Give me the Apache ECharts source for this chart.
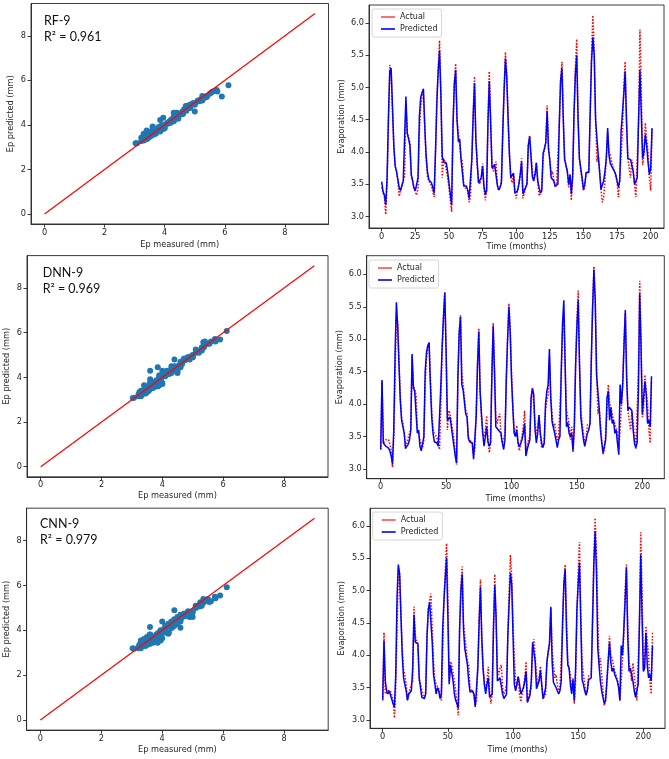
<!DOCTYPE html>
<html><head><meta charset="utf-8">
<script src="https://cdn.jsdelivr.net/npm/echarts@6/dist/echarts.min.js"></script>
<style>html,body{margin:0;padding:0;background:#fff}#c{width:669px;height:759px}</style>
</head><body><div id="c"></div>
<script>
// ---------- DATA ----------
// Actual monthly evaporation (mm), test window of DNN-9 / CNN-9 (208 months)
const actual = [
3.30,4.35,3.40,3.42,3.45,3.42,3.45,3.38,3.30,3.03,
3.50,4.40,5.35,5.25,4.65,4.10,3.78,3.70,3.55,3.31,
3.40,3.48,3.55,3.60,4.75,4.30,4.22,4.15,3.62,3.55,
3.45,3.38,3.33,3.45,4.30,4.70,4.85,4.95,4.40,3.90,
3.62,3.55,3.52,3.48,3.38,3.30,4.00,4.85,5.30,5.73,
4.90,3.60,3.90,3.85,3.85,3.60,3.45,3.25,3.07,4.40,
5.10,5.37,4.50,4.30,4.30,3.90,3.85,3.50,3.45,3.45,
3.40,3.22,3.30,3.90,4.60,5.17,4.20,3.80,3.55,3.50,
3.60,3.82,3.45,3.25,3.40,4.50,5.25,4.50,3.80,3.70,
3.80,3.85,3.50,3.40,3.45,3.55,4.30,5.00,5.55,5.20,
4.50,3.95,3.60,3.52,3.67,3.40,3.28,3.40,3.50,3.65,
3.90,3.28,3.35,3.45,3.50,4.10,4.25,4.22,3.70,3.55,
3.65,3.83,3.55,3.32,3.35,3.40,3.90,4.05,4.15,4.72,
4.10,3.85,3.65,3.70,3.55,3.45,3.50,3.50,4.40,5.10,
5.40,4.60,3.90,3.90,3.70,3.45,3.65,3.25,3.60,4.60,
5.30,5.75,4.60,3.90,3.70,3.55,3.40,3.45,3.68,3.65,
3.70,4.60,5.50,6.12,5.60,4.60,3.85,3.95,3.70,3.45,
3.22,3.30,3.55,3.90,4.30,4.00,3.95,3.85,3.75,3.70,
3.62,3.55,3.30,3.60,3.95,4.30,5.00,5.40,4.50,3.90,
3.90,3.60,3.88,3.85,3.50,3.30,3.30,4.50,5.90,5.00,
3.80,3.95,4.45,4.20,4.00,3.60,3.40,4.35];
// RF-9 test window starts 6 months later (202 months)
const rfActual = actual.slice(6);
const rfPred = [
3.54,3.38,3.33,3.18,3.60,4.55,5.25,5.30,4.70,4.10,
3.78,3.70,3.67,3.45,3.40,3.48,3.55,3.58,4.86,4.29,
4.20,4.10,3.65,3.55,3.44,3.40,3.38,3.60,4.55,4.85,
4.92,4.98,4.40,3.95,3.70,3.57,3.55,3.52,3.45,3.36,
4.00,4.76,5.25,5.57,4.90,3.93,3.85,3.85,3.83,3.70,
3.52,3.35,3.18,4.40,5.05,5.27,4.50,4.16,4.20,3.88,
3.85,3.47,3.45,3.47,3.40,3.28,3.30,3.88,4.55,5.07,
4.20,3.83,3.52,3.52,3.60,3.78,3.47,3.34,3.40,4.45,
5.10,4.45,3.75,3.72,3.80,3.83,3.48,3.41,3.45,3.52,
4.30,4.95,5.45,5.15,4.50,3.95,3.60,3.57,3.67,3.36,
3.36,3.40,3.50,3.65,3.85,3.35,3.40,3.45,3.50,4.10,
4.24,4.24,3.62,3.55,3.65,3.83,3.55,3.45,3.36,3.40,
3.98,4.05,4.15,4.63,4.05,3.88,3.60,3.60,3.55,3.47,
3.50,3.50,4.40,5.10,5.30,4.50,3.88,3.85,3.70,3.50,
3.65,3.35,3.65,4.60,5.20,5.50,4.50,3.90,3.75,3.60,
3.42,3.50,3.68,3.70,3.68,4.60,5.40,5.78,5.50,4.50,
4.22,3.95,3.70,3.42,3.42,3.55,3.70,3.90,4.37,3.95,
3.82,3.78,3.75,3.70,3.65,3.55,3.45,3.55,4.32,4.30,
4.90,5.25,4.50,3.90,3.88,3.88,3.88,3.70,3.50,3.48,
3.60,4.50,5.27,4.60,3.90,4.00,4.27,4.10,3.85,3.65,
3.75,4.37];
const dnnPred = [
3.30,4.37,3.40,3.38,3.35,3.33,3.32,3.28,3.20,3.08,
3.60,4.80,5.57,5.20,4.60,4.05,3.75,3.75,3.55,3.32,
3.35,3.38,3.45,3.60,4.77,4.25,4.20,4.22,3.55,3.60,
3.35,3.28,3.30,3.50,4.50,4.80,4.90,4.95,4.30,3.80,
3.55,3.42,3.45,3.40,3.35,3.35,4.30,4.90,5.35,5.72,
4.80,3.75,3.78,3.80,3.65,3.50,3.35,3.20,3.09,4.40,
5.10,5.35,4.30,4.22,4.25,3.85,3.80,3.47,3.42,3.45,
3.40,3.15,3.15,3.80,4.60,5.12,4.20,3.86,3.55,3.35,
3.50,3.65,3.42,3.35,3.40,4.45,5.20,4.50,3.65,3.62,
3.60,3.60,3.55,3.40,3.30,3.45,4.40,5.00,5.50,5.10,
4.40,3.95,3.55,3.50,3.60,3.40,3.34,3.35,3.45,3.55,
3.70,3.20,3.30,3.28,3.45,4.10,4.24,4.15,3.60,3.40,
3.55,3.83,3.55,3.40,3.33,3.40,4.00,4.20,4.30,4.85,
4.10,3.73,3.70,3.55,3.45,3.33,3.45,3.50,4.50,5.25,
5.60,4.60,3.65,3.72,3.55,3.50,3.55,3.28,3.65,4.60,
5.20,5.60,4.60,3.80,3.62,3.45,3.35,3.33,3.55,3.60,
3.70,4.70,5.50,6.07,5.60,4.45,4.45,3.95,3.60,3.40,
3.25,3.25,3.45,4.10,4.20,3.75,3.95,3.70,3.75,3.55,
3.60,3.40,3.22,4.30,4.00,4.30,4.90,5.45,4.40,3.90,
3.95,3.92,3.90,3.60,3.40,3.33,3.40,4.20,5.70,4.90,
3.85,3.83,4.35,4.15,3.70,3.75,3.65,4.43];
const cnnPred = [
3.31,4.22,3.60,3.45,3.40,3.45,3.38,3.36,3.25,3.20,
3.70,4.90,5.40,5.25,4.60,4.00,3.65,3.65,3.45,3.30,
3.40,3.42,3.45,3.80,4.63,4.20,4.20,4.18,3.65,3.50,
3.35,3.33,3.33,3.40,4.30,4.70,4.82,4.80,4.20,3.70,
3.56,3.40,3.50,3.45,3.33,3.40,4.40,4.85,5.20,5.50,
4.60,3.55,3.85,3.85,3.60,3.40,3.30,3.25,3.18,4.40,
5.00,5.25,4.40,4.10,4.10,3.85,3.60,3.43,3.43,3.45,
3.40,3.20,3.20,3.80,4.50,5.05,4.30,3.80,3.55,3.40,
3.55,3.65,3.35,3.35,3.40,4.40,5.08,4.60,3.60,3.60,
3.65,3.65,3.40,3.33,3.35,3.40,4.30,4.80,5.27,5.10,
4.30,3.55,3.45,3.45,3.67,3.55,3.40,3.40,3.50,3.60,
3.75,3.27,3.30,3.38,3.60,4.20,4.22,3.90,3.48,3.50,
3.60,3.77,3.55,3.33,3.40,3.50,3.90,4.05,4.20,4.75,
3.90,3.58,3.55,3.50,3.45,3.40,3.45,3.60,4.50,5.10,
5.33,4.40,3.85,3.80,3.55,3.40,3.62,3.30,3.80,4.70,
5.10,5.43,4.50,3.62,3.55,3.45,3.38,3.45,3.62,3.60,
3.65,4.50,5.40,5.92,5.30,4.12,3.85,3.60,3.45,3.35,
3.25,3.30,3.60,3.90,4.20,3.90,3.75,3.80,3.70,3.70,
3.60,3.50,3.30,4.15,4.00,4.40,4.85,5.35,4.30,3.75,
3.80,3.82,3.60,3.45,3.35,3.35,3.55,4.50,5.55,4.60,
3.75,3.80,4.35,3.85,3.65,3.70,3.60,4.15];
const modelNames = ['RF-9', 'DNN-9', 'CNN-9'];
const r2Values = ['0.961', '0.969', '0.979'];
const scatterTicks = [0, 2, 4, 6, 8];
const evapTicks = [3.0, 3.5, 4.0, 4.5, 5.0, 5.5, 6.0];
const monthTicksRF = [0, 25, 50, 75, 100, 125, 150, 175, 200];
const monthTicks = [0, 50, 100, 150, 200];
const diagonal = [0, 9];

// ---------- LAYOUT ----------
const FONT = 'DejaVu Sans';
const INK = '#262626';
const FS = 8.2;
const scatterLayout = [
  {grid:{left:31, top:3.5, width:297.5, height:220.5}, xGap:17, yGap:16.5, title:{left:44, top:12.7}},
  {grid:{left:27, top:255.6, width:301, height:221.2}, xGap:15, yGap:16, title:{left:42.7, top:264.7}},
  {grid:{left:26.6, top:508.2, width:301.6, height:221.9}, xGap:15.5, yGap:16, title:{left:40, top:516.3}}
];
const seriesLayout = [
  {grid:{left:369, top:5, width:295, height:223}, x:[-9.45, 209.9], y:[2.82, 6.28], xGap:15, yGap:23.5, legend:{left:372, top:9}},
  {grid:{left:366.7, top:255.7, width:297.6, height:223}, x:[-10.7, 216.8], y:[2.85, 6.287], xGap:16, yGap:23, legend:{left:369, top:260}},
  {grid:{left:370, top:508.3, width:295, height:220}, x:[-9.75, 216.6], y:[2.87, 6.27], xGap:18, yGap:24, legend:{left:372.7, top:512}}
];

const panelsPred = [rfPred, dnnPred, cnnPred];
const panelsActual = [rfActual, actual, actual];
const panelsMonthTicks = [monthTicksRF, monthTicks, monthTicks];

function axis(gridIndex, o) {
  return Object.assign({
    gridIndex, type:'value',
    nameLocation:'middle',
    nameTextStyle:{fontFamily:FONT, fontSize:FS, color:INK},
    axisLine:{show:true, onZero:false, lineStyle:{color:INK, width:0.9}},
    axisTick:{show:true, length:3.5, lineStyle:{color:INK, width:0.9}},
    splitLine:{show:false},
  }, o);
}

const grid = [], xAxis = [], yAxis = [], series = [], title = [], legend = [];
for (let k = 0; k < 3; k++) {
  // ---- scatter panel ----
  const s = scatterLayout[k];
  const gi = grid.length;
  grid.push(Object.assign({show:true, borderColor:INK, borderWidth:0.9, containLabel:false}, s.grid));
  xAxis.push(axis(gi, {min:-0.45, max:9.45, name:'Ep measured (mm)', nameGap:s.xGap,
    axisTick:{show:true, length:3.5, customValues:scatterTicks, lineStyle:{color:INK, width:0.9}},
    axisLabel:{customValues:scatterTicks, fontFamily:FONT, fontSize:FS, color:INK, margin:4.5}}));
  yAxis.push(axis(gi, {min:-0.45, max:9.45, name:'Ep predicted (mm)', nameGap:s.yGap,
    axisTick:{show:true, length:3.5, customValues:scatterTicks, lineStyle:{color:INK, width:0.9}},
    axisLabel:{customValues:scatterTicks, fontFamily:FONT, fontSize:FS, color:INK, margin:5}}));
  const act = panelsActual[k], pred = panelsPred[k];
  series.push({type:'scatter', name:'scatter' + k, xAxisIndex:gi, yAxisIndex:gi,
    data: pred.map((v, i) => [act[i], v]), symbolSize:6, silent:true,
    itemStyle:{color:'#1f77b4', opacity:1}, z:2});
  series.push({type:'line', name:'diag' + k, xAxisIndex:gi, yAxisIndex:gi,
    data: diagonal.map(v => [v, v]), symbol:'none', silent:true,
    lineStyle:{color:'#ff0000', width:1.2}, z:3});
  title.push({left:s.title.left, top:s.title.top, padding:0,
    text: modelNames[k] + '\nR\u00B2 = ' + r2Values[k],
    textStyle:{fontFamily:'Lato', fontSize:12.5, fontWeight:'normal', color:'#111', lineHeight:16}});

  // ---- time series panel ----
  const t = seriesLayout[k];
  const gj = grid.length;
  grid.push(Object.assign({show:true, borderColor:INK, borderWidth:0.9, containLabel:false}, t.grid));
  const mt = panelsMonthTicks[k];
  xAxis.push(axis(gj, {min:t.x[0], max:t.x[1], name:'Time (months)', nameGap:t.xGap,
    axisTick:{show:true, length:3.5, customValues:mt, lineStyle:{color:INK, width:0.9}},
    axisLabel:{customValues:mt, fontFamily:FONT, fontSize:FS, color:INK, margin:4.5}}));
  yAxis.push(axis(gj, {min:t.y[0], max:t.y[1], name:'Evaporation (mm)', nameGap:t.yGap,
    axisTick:{show:true, length:3.5, customValues:evapTicks, lineStyle:{color:INK, width:0.9}},
    axisLabel:{customValues:evapTicks, fontFamily:FONT, fontSize:FS, color:INK, margin:5,
      formatter: v => Number(v).toFixed(1)}}));
  series.push({type:'line', name:'Actual', xAxisIndex:gj, yAxisIndex:gj,
    data: act.map((v, i) => [i, v]), symbol:'none', showSymbol:false, silent:true,
    itemStyle:{color:'#ff0000'},
    lineStyle:{color:'#ff0000', width:1.5, type:[1.5, 1.6]}, z:2});
  series.push({type:'line', name:'Predicted', xAxisIndex:gj, yAxisIndex:gj,
    data: pred.map((v, i) => [i, v]), symbol:'none', showSymbol:false, silent:true,
    itemStyle:{color:'#0000ff'},
    lineStyle:{color:'#0000ff', width:1.5}, z:3});
  legend.push({left:t.legend.left, top:t.legend.top, orient:'vertical',
    data:[{name:'Actual', icon:'rect', itemStyle:{color:'#ff4d4d'}}, {name:'Predicted', icon:'rect', itemStyle:{color:'#0000ff'}}],
    selectedMode:false,
    itemWidth:14, itemHeight:1.6, itemGap:4, padding:[4, 4, 4, 9],
    borderColor:'#cccccc', borderWidth:0.8, borderRadius:2, backgroundColor:'#ffffff',
    textStyle:{fontFamily:FONT, fontSize:8, color:INK, lineHeight:8}});
}

const chart = echarts.init(document.getElementById('c'), null, {renderer:'canvas', devicePixelRatio:1});
chart.setOption({animation:false, backgroundColor:'#ffffff', grid, xAxis, yAxis, series, title, legend});
</script>
</body></html>
